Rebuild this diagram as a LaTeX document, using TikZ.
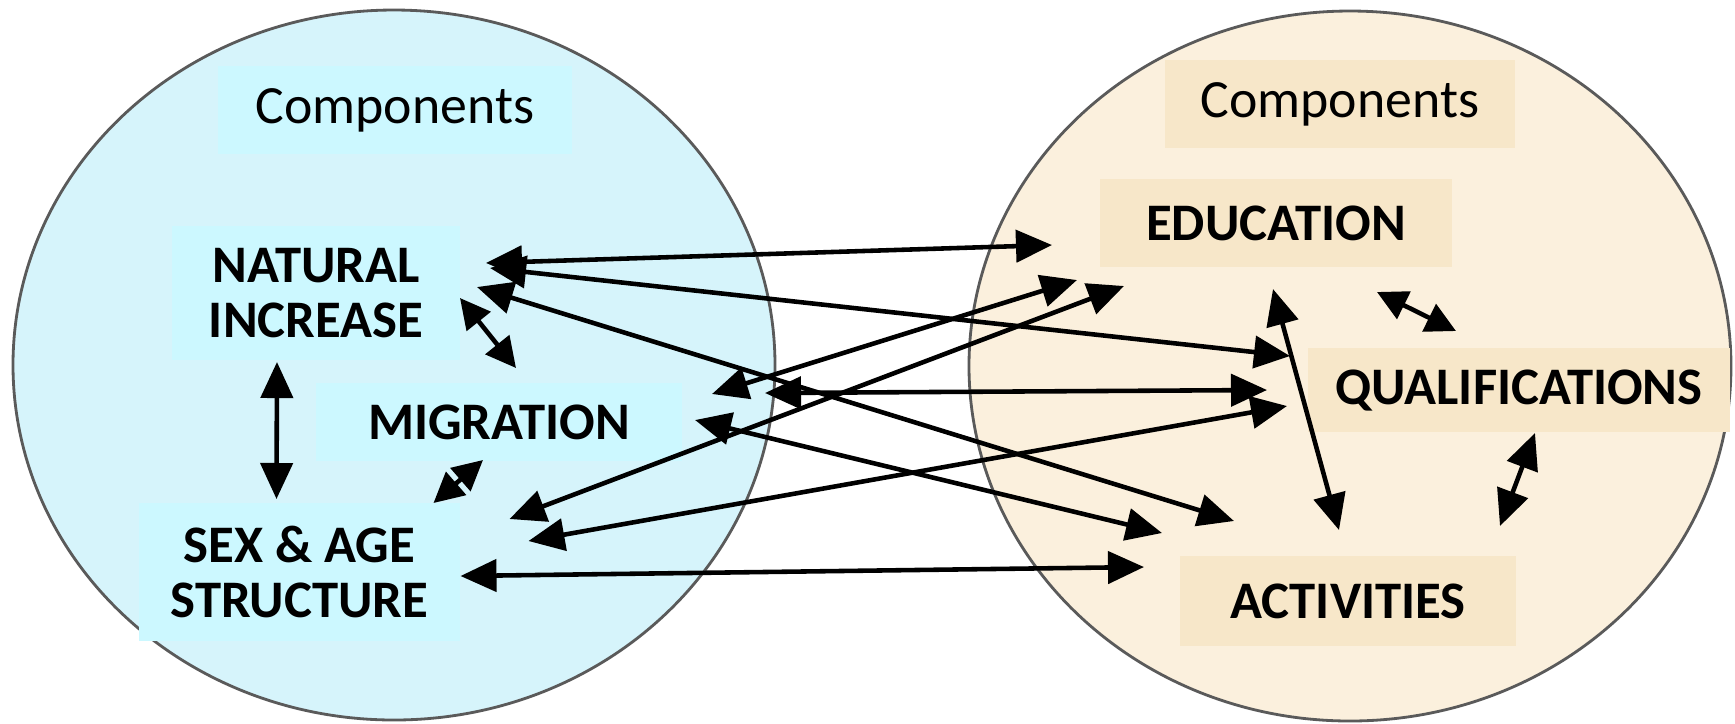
\documentclass[tikz,border=0pt]{standalone}
\usepackage{fontspec}
\setmainfont{Carlito}
\usetikzlibrary{arrows.meta}
\definecolor{skyfill}{HTML}{D6F4FB}
\definecolor{skybox}{HTML}{CCF8FF}
\definecolor{sandfill}{HTML}{FBF0DD}
\definecolor{sandbox}{HTML}{F7E7C9}
\definecolor{rim}{HTML}{5A5A5A}
\tikzset{
  sphere/.style={draw=rim,line width=0.8pt},
  heading/.style={rectangle,inner sep=0pt,align=center,font=\fontsize{15.3}{17}\selectfont},
  factor/.style={rectangle,inner sep=0pt,align=center,font=\fontsize{15}{15.6}\selectfont\bfseries},
  link/.style={{Triangle[length=3.6mm,width=3.2mm]}-{Triangle[length=3.6mm,width=3.2mm]},line width=1.3pt},
  shortlink/.style={{Triangle[length=3mm,width=3mm]}-{Triangle[length=3mm,width=3mm]},line width=1.3pt}
}
\begin{document}
\begin{tikzpicture}[x=0.01cm,y=-0.01cm]
    \useasboundingbox (0,0) rectangle (1735,723);
    \fill[white] (0,0) rectangle (1735,723);
    \draw[sphere,fill=skyfill] (394,365) ellipse [x radius=381,y radius=355];
    \draw[sphere,fill=sandfill] (1350,366) ellipse [x radius=381,y radius=355];
    \node[heading,fill=skybox,minimum width=3.53cm,minimum height=0.87cm] (compL) at (395,110) {Components};
    \node[factor,fill=skybox,minimum width=2.88cm,minimum height=1.34cm] (nat) at (316,293) {NATURAL\\INCREASE};
    \node[factor,fill=skybox,minimum width=3.66cm,minimum height=0.78cm] (mig) at (499,422) {MIGRATION};
    \node[factor,fill=skybox,minimum width=3.21cm,minimum height=1.38cm] (sex) at (299.5,572) {SEX \& AGE\\STRUCTURE};
    \node[heading,fill=sandbox,minimum width=3.50cm,minimum height=0.88cm] (compR) at (1340,104) {Components};
    \node[factor,fill=sandbox,minimum width=3.51cm,minimum height=0.88cm] (edu) at (1276,223) {EDUCATION};
    \node[factor,fill=sandbox,minimum width=4.21cm,minimum height=0.83cm] (qual) at (1519,390) {QUALIFICATIONS};
    \node[factor,fill=sandbox,minimum width=3.36cm,minimum height=0.90cm] (act) at (1348,601) {ACTIVITIES};
    \draw[link] ([shift={(170,-30)}]nat.center) -- ([shift={(-224,22)}]edu.center);
    \draw[link] ([shift={(174,-25)}]nat.center) -- ([shift={(-229,-34)}]qual.center);
    \draw[link] ([shift={(161,-6)}]nat.center) -- ([shift={(-114,-80)}]act.center);
    \draw[link] ([shift={(213,-28)}]mig.center) -- ([shift={(-199,57)}]edu.center);
    \draw[link] ([shift={(266,-29)}]mig.center) -- ([shift={(-252,0)}]qual.center);
    \draw[link] ([shift={(196,-2)}]mig.center) -- ([shift={(-186,-68)}]act.center);
    \draw[link] ([shift={(210,-53)}]sex.center) -- ([shift={(-152,63)}]edu.center);
    \draw[link] ([shift={(229,-31)}]sex.center) -- ([shift={(-232,16)}]qual.center);
    \draw[link] ([shift={(161,4)}]sex.center) -- ([shift={(-204,-34)}]act.center);
    \draw[shortlink] ([shift={(144,5)}]nat.center) -- ([shift={(17,-54)}]mig.center);
    \draw[link] ([shift={(-39,69)}]nat.center) -- ([shift={(-23,-73)}]sex.center);
    \draw[shortlink] ([shift={(-16,38)}]mig.center) -- ([shift={(134,-69)}]sex.center);
    \draw[link] ([shift={(-3,66)}]edu.center) -- ([shift={(-9,-71)}]act.center);
    \draw[shortlink] ([shift={(101,69)}]edu.center) -- ([shift={(-63,-59)}]qual.center);
    \draw[link] ([shift={(16,43)}]qual.center) -- ([shift={(152,-75)}]act.center);
\end{tikzpicture}
\end{document}
